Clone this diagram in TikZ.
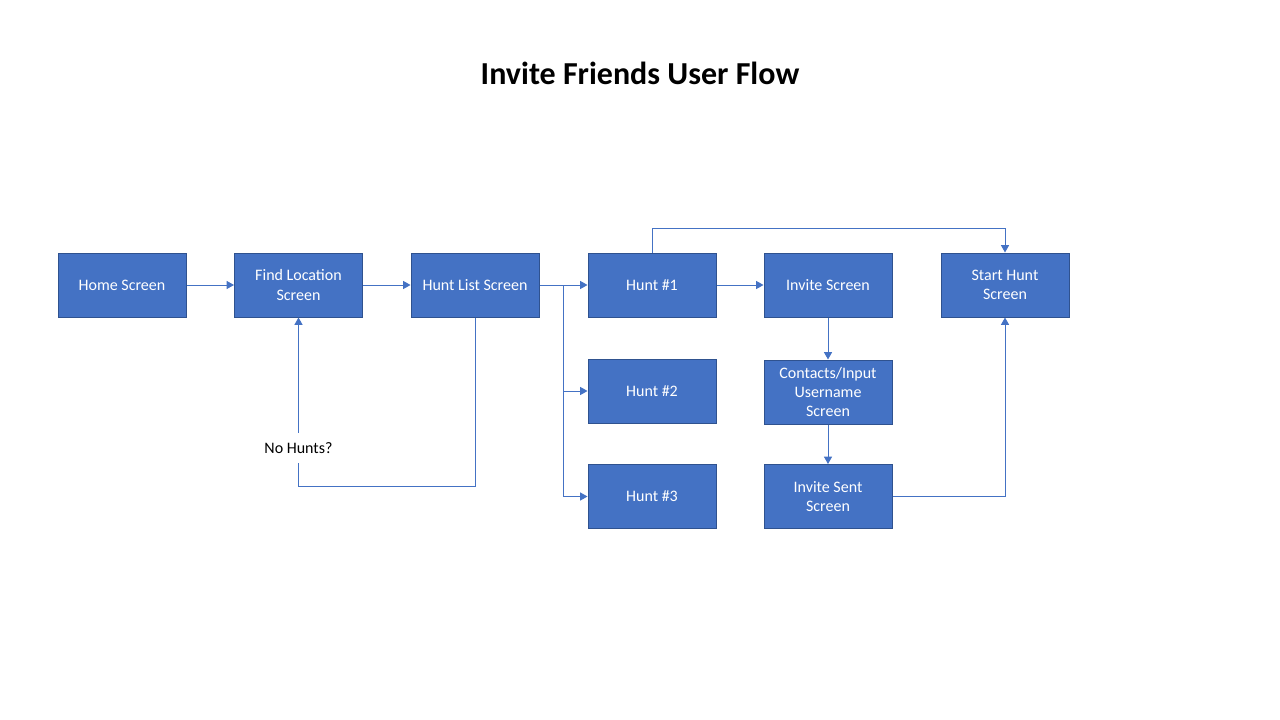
\documentclass[tikz,border=0pt]{standalone}
\usepackage{fontspec}
\setmainfont{Carlito}
\usetikzlibrary{arrows.meta,positioning}
\definecolor{boxblue}{RGB}{68,114,196}
\definecolor{boxedge}{RGB}{47,82,143}
\definecolor{flowblue}{RGB}{68,114,196}
\tikzset{
  screen/.style={rectangle,draw=boxedge,line width=0.75pt,fill=boxblue,
    text=white,font=\fontsize{12}{14.4}\selectfont,align=center,
    minimum width=96pt,minimum height=48pt,inner sep=2pt},
  flow/.style={draw=flowblue,line width=0.75pt,
    -{Triangle[width=6pt,length=5.5pt]}},
  plain/.style={draw=flowblue,line width=0.75pt},
}
\begin{document}
\begin{tikzpicture}[x=0.75pt,y=-0.75pt]
\useasboundingbox(0,0)rectangle(1280,720);
\node[font=\fontsize{24}{28}\selectfont\bfseries](title)at(640,73){Invite Friends User Flow};
% main row
\node[screen](home)at(122,285){Home Screen};
\node[screen](findloc)at(298.5,285){Find Location\\Screen};
\node[screen](huntlist)at(475,285){Hunt List Screen};
\node[screen](hunt1)at(652,285){Hunt \#1};
\node[screen](invite)at(828,285){Invite Screen};
\node[screen](start)at(1005,285){Start Hunt\\Screen};
% lower rows
\node[screen](hunt2)at(652,391){Hunt \#2};
\node[screen](hunt3)at(652,496.5){Hunt \#3};
\node[screen](contacts)at(828,392){Contacts/Input\\Username\\Screen};
\node[screen](sent)at(828,496.5){Invite Sent\\Screen};
\node[font=\fontsize{12}{14.4}\selectfont,minimum height=22.5pt,inner sep=0pt](nohunts)at(298.5,448){No Hunts?};
\coordinate(split)at(563,285);
\draw[flow](home)--(findloc);
\draw[flow](findloc)--(huntlist);
\draw[flow](huntlist)--(hunt1);
\draw[flow](split)|-(hunt2);
\draw[flow](split)|-(hunt3);
\draw[flow](hunt1)--(invite);
\draw[flow](hunt1.north)--++(0,-24)-|(start.north);
\draw[flow](invite)--(contacts);
\draw[flow](contacts)--(sent);
\draw[flow](sent.east)-|(start.south);
\draw[plain](huntlist.south)--++(0,169)-|(nohunts.south);
\draw[flow](nohunts.north)--(findloc.south);
\end{tikzpicture}
\end{document}
